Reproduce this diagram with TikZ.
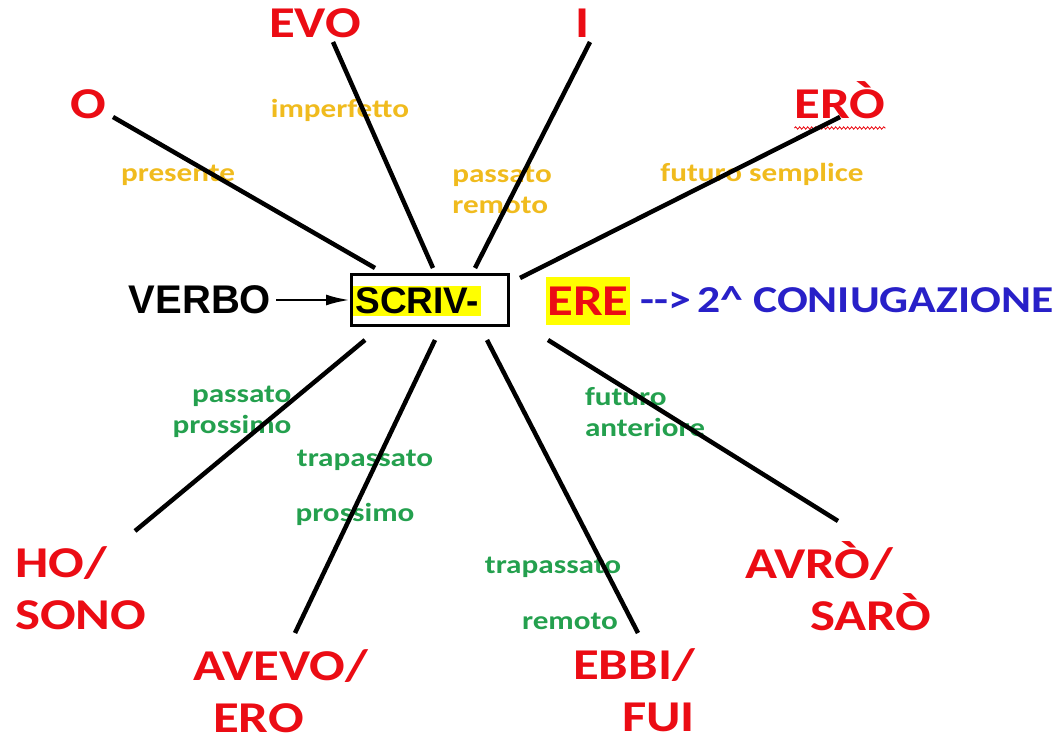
\documentclass[tikz,border=0pt]{standalone}
\usepackage{fontspec}
\setmainfont{Carlito}[FakeStretch=1.2]
\newfontfamily\arialfont{Liberation Sans}
\usetikzlibrary{arrows.meta,decorations.pathmorphing}
\definecolor{endred}{RGB}{235,12,20}
\definecolor{tensegold}{RGB}{240,187,30}
\definecolor{tensegreen}{RGB}{36,160,78}
\definecolor{conjblue}{RGB}{40,32,200}
\definecolor{hilite}{RGB}{255,255,0}
\tikzset{
	ending/.style={text=endred,font=\fontsize{44}{52}\selectfont\bfseries,inner sep=0pt},
	tense/.style={font=\fontsize{26}{31}\selectfont\bfseries,inner sep=0pt},
	simple/.style={tense,text=tensegold},
	compound/.style={tense,text=tensegreen},
	spoke/.style={line width=4.5pt},
	squiggle/.style={endred,line width=0.8pt,decorate,decoration={snake,amplitude=1.2pt,segment length=4pt}}
}
\begin{document}
\begin{tikzpicture}[x=1pt,y=-1pt,>={Latex[length=24pt,width=11pt]}]
	\useasboundingbox (0,0) rectangle (1062,741);
	% radice del verbo
	\node[draw,line width=3pt,minimum width=157pt,minimum height=51pt,inner sep=0pt] (box) at (430,300) {};
	\node[fill=hilite,inner sep=2pt,font=\arialfont\fontsize{37}{40}\selectfont\bfseries] (scriv) at (417,301) {SCRIV-};
	\node[font=\arialfont\fontsize{40}{42}\selectfont\bfseries,inner sep=5pt] (verbo) at (200,300) {VERBO};
	\draw[->,line width=2.8pt] (verbo) -- (box);
	\node[fill=hilite,text=endred,font=\fontsize{44}{48}\selectfont\bfseries,minimum height=48pt,inner sep=1pt] (ere) at (588,301) {ERE};
	\node[text=conjblue,font=\fontsize{38}{40}\selectfont\bfseries,anchor=west,inner sep=0pt] (coniug) at (640,300) {-{}->\,2\textasciicircum{} CONIUGAZIONE};
	% desinenze
	\node[ending,anchor=base] (o) at (88,119) {O};
	\node[ending,anchor=base] (evo) at (315,38) {EVO};
	\node[ending,anchor=base] (i) at (583,38) {I};
	\node[ending,anchor=base] (ero) at (840,118) {ERÒ};
	\draw[squiggle] ([yshift=-10pt]ero.base west) -- ([yshift=-10pt]ero.base east);
	\node[ending,align=left,anchor=base west] (ho) at (15,629) {HO/\\SONO};
	\node[ending,align=left,anchor=base west] (avevo) at (193,732) {AVEVO/\\\hspace{20pt}ERO};
	\node[ending,align=right,anchor=base east] (ebbi) at (695,731) {EBBI/\\FUI};
	\node[ending,align=left,anchor=base west] (avro) at (745,630) {AVRÒ/\\\hspace{65pt}SARÒ};
	% tempi
	\node[simple] (imperf) at (340,110) {imperfetto};
	\node[simple] (pres) at (178,175) {presente};
	\node[simple,align=left] (passrem) at (502,190) {passato\\remoto};
	\node[simple] (futsem) at (762,174) {futuro semplice};
	\node[compound,align=right] (passpross) at (232,412) {passato\\prossimo};
	\node[compound] (trapp) at (365,460) {trapassato};
	\node[compound] (pross) at (355,514) {prossimo};
	\node[compound] (trapr) at (553,567) {trapassato};
	\node[compound] (rem) at (570,621) {remoto};
	\node[compound,align=left] (futant) at (645,412) {futuro\\anteriore};
	% raggi
	\coordinate (o-in) at (375,268); \coordinate (o-out) at (113,117);
	\coordinate (evo-in) at (433,268); \coordinate (evo-out) at (333,42);
	\coordinate (i-in) at (475,268); \coordinate (i-out) at (590,42);
	\coordinate (ero-in) at (520,278); \coordinate (ero-out) at (840,117);
	\coordinate (ho-in) at (365,340); \coordinate (ho-out) at (135,531);
	\coordinate (avevo-in) at (435,340); \coordinate (avevo-out) at (295,633);
	\coordinate (ebbi-in) at (487,340); \coordinate (ebbi-out) at (638,633);
	\coordinate (avro-in) at (548,340); \coordinate (avro-out) at (838,521);
	\foreach \n in {o,evo,i,ero,ho,avevo,ebbi,avro}
		\draw[spoke] (\n-in) -- (\n-out);
\end{tikzpicture}
\end{document}
